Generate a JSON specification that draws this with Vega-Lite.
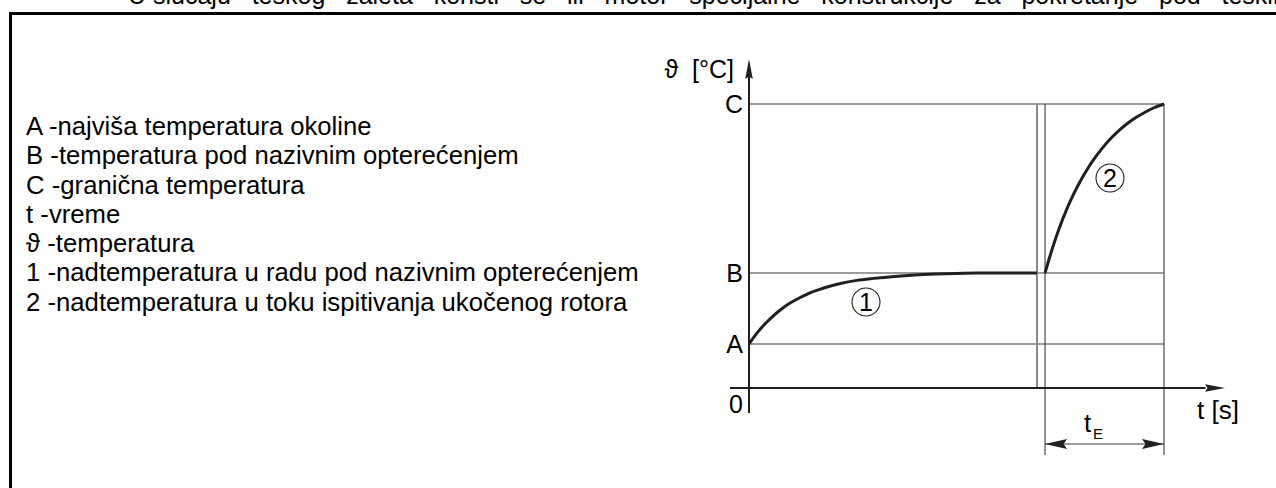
{
  "$schema": "https://vega.github.io/schema/vega-lite/v6.json",
  "width": 1276,
  "height": 488,
  "autosize": {"type": "none"},
  "padding": 0,
  "background": "white",
  "config": {"view": {"stroke": null}, "font": "Liberation Sans"},
  "datasets": {
    "curves": [
      {"curve": "1", "t": 0, "v": 15.5},
      {"curve": "1", "t": 2, "v": 19.5},
      {"curve": "1", "t": 4, "v": 22.8},
      {"curve": "1", "t": 6, "v": 25.6},
      {"curve": "1", "t": 8, "v": 28.0},
      {"curve": "1", "t": 10, "v": 30.0},
      {"curve": "1", "t": 12, "v": 31.6},
      {"curve": "1", "t": 15, "v": 33.7},
      {"curve": "1", "t": 18, "v": 35.2},
      {"curve": "1", "t": 22, "v": 36.8},
      {"curve": "1", "t": 26, "v": 37.9},
      {"curve": "1", "t": 30, "v": 38.6},
      {"curve": "1", "t": 35, "v": 39.3},
      {"curve": "1", "t": 40, "v": 39.8},
      {"curve": "1", "t": 45, "v": 40.1},
      {"curve": "1", "t": 50, "v": 40.3},
      {"curve": "1", "t": 55, "v": 40.45},
      {"curve": "1", "t": 60, "v": 40.5},
      {"curve": "1", "t": 69.4, "v": 40.5},
      {"curve": "2", "t": 71.33, "v": 40.5},
      {"curve": "2", "t": 72.33, "v": 45.5},
      {"curve": "2", "t": 73.33, "v": 50.2},
      {"curve": "2", "t": 74.33, "v": 54.5},
      {"curve": "2", "t": 75.33, "v": 58.5},
      {"curve": "2", "t": 76.33, "v": 62.1},
      {"curve": "2", "t": 77.33, "v": 65.5},
      {"curve": "2", "t": 79.33, "v": 71.5},
      {"curve": "2", "t": 81.33, "v": 76.6},
      {"curve": "2", "t": 83.33, "v": 81.0},
      {"curve": "2", "t": 85.33, "v": 84.8},
      {"curve": "2", "t": 87.33, "v": 88.1},
      {"curve": "2", "t": 89.33, "v": 90.9},
      {"curve": "2", "t": 91.33, "v": 93.3},
      {"curve": "2", "t": 93.33, "v": 95.3},
      {"curve": "2", "t": 95.33, "v": 97.0},
      {"curve": "2", "t": 97.33, "v": 98.5},
      {"curve": "2", "t": 100, "v": 100}
    ],
    "segments": [
      {"kind": "frame", "t": -178.31, "t2": 130, "v": 131.87, "v2": 131.87},
      {"kind": "frame", "t": -177.95, "t2": -177.95, "v": 132.4, "v2": -36},
      {"kind": "axis", "t": 0, "t2": 0, "v": -8.8, "v2": 110},
      {"kind": "axis", "t": -4.58, "t2": 110, "v": 0, "v2": 0},
      {"kind": "thin", "t": 0, "t2": 100, "v": 15.5, "v2": 15.5},
      {"kind": "thin", "t": 0, "t2": 100, "v": 40.5, "v2": 40.5},
      {"kind": "thin", "t": 0, "t2": 100, "v": 100, "v2": 100},
      {"kind": "grey", "t": 69.4, "t2": 69.4, "v": 0, "v2": 100},
      {"kind": "thin", "t": 71.33, "t2": 71.33, "v": -23.6, "v2": 100},
      {"kind": "thin", "t": 100, "t2": 100, "v": -23.6, "v2": 100},
      {"kind": "thin", "t": 71.33, "t2": 100, "v": -19.72, "v2": -19.72}
    ],
    "arrows": [
      {"dir": "up", "t": 0, "v": 115.85},
      {"dir": "right", "t": 114.7, "v": 0},
      {"dir": "dimL", "t": 71.33, "v": -19.72},
      {"dir": "dimR", "t": 100, "v": -19.72}
    ],
    "circles": [
      {"label": "1", "t": 28.19, "v": 30.28},
      {"label": "2", "t": 86.99, "v": 73.94}
    ],
    "texts": [
      {"role": "legend", "t": -174.2, "v": 89.08, "label": "A -najviša temperatura okoline"},
      {"role": "legend", "t": -174.2, "v": 78.77, "label": "B -temperatura pod nazivnim opterećenjem"},
      {"role": "legend", "t": -174.2, "v": 68.45, "label": "C -granična temperatura"},
      {"role": "legend", "t": -174.2, "v": 58.13, "label": "t -vreme"},
      {"role": "legend", "t": -174.2, "v": 47.82, "label": "ϑ -temperatura"},
      {"role": "legend", "t": -174.2, "v": 37.5, "label": "1 -nadtemperatura u radu pod nazivnim opterećenjem"},
      {"role": "legend", "t": -174.2, "v": 27.18, "label": "2 -nadtemperatura u toku ispitivanja ukočenog rotora"},
      {"role": "tick", "t": -1.45, "v": 96.83, "label": "C"},
      {"role": "tick", "t": -1.45, "v": 37.32, "label": "B"},
      {"role": "tick", "t": -1.45, "v": 12.32, "label": "A"},
      {"role": "tick", "t": -1.45, "v": -8.8, "label": "0"},
      {"role": "tick", "t": -3.6, "v": 109.15, "label": "ϑ \u00a0[°C]"},
      {"role": "left", "t": 107.95, "v": -10.92, "label": "t [s]"},
      {"role": "center", "t": 81.57, "v": -15.49, "label": "t"},
      {"role": "sub", "t": 82.89, "v": -17.96, "label": "E"},
      {"role": "top", "t": -149.64, "v": 135.2, "label": "U slučaju \u00a0\u00a0teškog \u00a0\u00a0zaleta \u00a0\u00a0koristi \u00a0\u00a0se \u00a0\u00a0ili \u00a0\u00a0motor \u00a0\u00a0specijalne \u00a0\u00a0konstrukcije \u00a0\u00a0za \u00a0\u00a0pokretanje \u00a0\u00a0pod \u00a0\u00a0teškim"}
    ]
  },
  "encoding": {
    "x": {"field": "t", "type": "quantitative", "scale": {"domain": [-180.4819, 126.988], "nice": false, "zero": false}, "axis": null},
    "y": {"field": "v", "type": "quantitative", "scale": {"domain": [-35.2113, 136.6197], "nice": false, "zero": false}, "axis": null}
  },
  "layer": [
    {
      "data": {"name": "segments"},
      "transform": [{"filter": "datum.kind === 'frame'"}],
      "mark": {"type": "rule", "color": "#000000", "strokeWidth": 3},
      "encoding": {"x2": {"field": "t2"}, "y2": {"field": "v2"}}
    },
    {
      "data": {"name": "segments"},
      "transform": [{"filter": "datum.kind === 'thin'"}],
      "mark": {"type": "rule", "color": "#3a3a3a", "strokeWidth": 1.1},
      "encoding": {"x2": {"field": "t2"}, "y2": {"field": "v2"}}
    },
    {
      "data": {"name": "segments"},
      "transform": [{"filter": "datum.kind === 'grey'"}],
      "mark": {"type": "rule", "color": "#8a8a8a", "strokeWidth": 2},
      "encoding": {"x2": {"field": "t2"}, "y2": {"field": "v2"}}
    },
    {
      "data": {"name": "segments"},
      "transform": [{"filter": "datum.kind === 'axis'"}],
      "mark": {"type": "rule", "color": "#231f20", "strokeWidth": 2},
      "encoding": {"x2": {"field": "t2"}, "y2": {"field": "v2"}}
    },
    {
      "data": {"name": "curves"},
      "mark": {"type": "line", "color": "#231f20", "strokeWidth": 3, "interpolate": "monotone"},
      "encoding": {"detail": {"field": "curve"}}
    },
    {
      "data": {"name": "arrows"},
      "mark": {"type": "point", "filled": true, "color": "#231f20", "opacity": 1, "size": 400, "strokeWidth": 0},
      "encoding": {
        "shape": {"field": "dir", "type": "nominal", "legend": null,
          "scale": {"domain": ["up", "right", "dimL", "dimR"],
            "range": ["M0,0L-0.38,2L0,1.75L0.38,2Z", "M0,0L-2,-0.38L-1.75,0L-2,0.38Z", "M0,0L2.2,-0.5L1.85,0L2.2,0.5Z", "M0,0L-2.2,-0.5L-1.85,0L-2.2,0.5Z"]}}
      }
    },
    {
      "data": {"name": "circles"},
      "mark": {"type": "point", "shape": "circle", "filled": false, "color": "#231f20", "opacity": 1, "size": 784, "strokeWidth": 1.1}
    },
    {
      "data": {"name": "circles"},
      "mark": {"type": "text", "fontSize": 25, "align": "center", "baseline": "middle", "color": "#000000", "dy": 1},
      "encoding": {"text": {"field": "label"}}
    },
    {
      "data": {"name": "texts"},
      "transform": [{"filter": "datum.role === 'legend'"}],
      "mark": {"type": "text", "fontSize": 25.7, "align": "left", "baseline": "alphabetic", "color": "#000000"},
      "encoding": {"text": {"field": "label"}}
    },
    {
      "data": {"name": "texts"},
      "transform": [{"filter": "datum.role === 'top'"}],
      "mark": {"type": "text", "fontSize": 25, "align": "left", "baseline": "alphabetic", "color": "#000000"},
      "encoding": {"text": {"field": "label"}}
    },
    {
      "data": {"name": "texts"},
      "transform": [{"filter": "datum.role === 'tick'"}],
      "mark": {"type": "text", "fontSize": 25, "align": "right", "baseline": "alphabetic", "color": "#000000"},
      "encoding": {"text": {"field": "label"}}
    },
    {
      "data": {"name": "texts"},
      "transform": [{"filter": "datum.role === 'left'"}],
      "mark": {"type": "text", "fontSize": 26, "align": "left", "baseline": "alphabetic", "color": "#000000"},
      "encoding": {"text": {"field": "label"}}
    },
    {
      "data": {"name": "texts"},
      "transform": [{"filter": "datum.role === 'center'"}],
      "mark": {"type": "text", "fontSize": 26, "align": "center", "baseline": "alphabetic", "color": "#000000"},
      "encoding": {"text": {"field": "label"}}
    },
    {
      "data": {"name": "texts"},
      "transform": [{"filter": "datum.role === 'sub'"}],
      "mark": {"type": "text", "fontSize": 15, "align": "left", "baseline": "alphabetic", "color": "#000000"},
      "encoding": {"text": {"field": "label"}}
    }
  ]
}
